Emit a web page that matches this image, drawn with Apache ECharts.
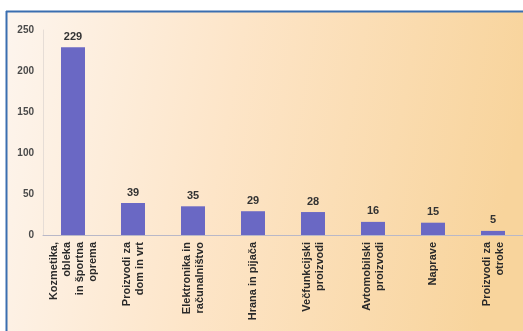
<!DOCTYPE html>
<html>
<head>
<meta charset="utf-8">
<script src="https://cdn.jsdelivr.net/npm/echarts@6/dist/echarts.min.js"></script>
<style>
  html, body { margin: 0; padding: 0; background: #ffffff; }
  #chart { width: 523px; height: 331px; }
</style>
</head>
<body>
<div id="chart"></div>
<script>
// Product categories (rotated labels under each bar)
const categories = [
  'Kozmetika,\nobleka\nin športna\noprema',
  'Proizvodi za\ndom in vrt',
  'Elektronika in\nračunalništvo',
  'Hrana in pijača',
  'Večfunkcijski\nproizvodi',
  'Avtomobilski\nproizvodi',
  'Naprave',
  'Proizvodi za\notroke'
];
// Number of items per category
const counts = [229, 39, 35, 29, 28, 16, 15, 5];
// Value axis ticks
const yTicks = [0, 50, 100, 150, 200, 250];

const chart = echarts.init(document.getElementById('chart'), null, { renderer: 'canvas' });

chart.setOption({
  animation: false,
  backgroundColor: '#ffffff',
  graphic: [
    {
      type: 'rect',
      z: -10,
      silent: true,
      shape: { x: 6, y: 11, width: 517, height: 320 },
      style: {
        fill: new echarts.graphic.LinearGradient(0, 0, 1, 0.3, [
          { offset: 0, color: '#fdf5ee' },
          { offset: 0.45, color: '#fde5c8' },
          { offset: 1, color: '#f8d49c' }
        ])
      }
    },
    {
      type: 'line', z: -9, silent: true,
      shape: { x1: 6, y1: 11.5, x2: 523, y2: 11.5 },
      style: { stroke: '#3a6eb0', lineWidth: 2 }
    },
    {
      type: 'line', z: -9, silent: true,
      shape: { x1: 6.5, y1: 11, x2: 6.5, y2: 331 },
      style: { stroke: '#3a6eb0', lineWidth: 2 }
    }
  ],
  grid: { left: 43, right: -5, top: 30, bottom: 96, containLabel: false },
  xAxis: {
    type: 'category',
    data: categories,
    axisTick: { show: false },
    axisLine: { show: true, lineStyle: { color: '#b9b8c8', width: 1 } },
    axisLabel: {
      interval: 0,
      rotate: 90,
      margin: 7,
      fontFamily: 'Liberation Sans, Arial, sans-serif',
      fontSize: 11,
      fontWeight: 'bold',
      lineHeight: 13,
      color: '#2a2a2a'
    }
  },
  yAxis: {
    type: 'value',
    min: yTicks[0],
    max: yTicks[yTicks.length - 1],
    interval: 50,
    splitLine: { show: false },
    axisTick: { show: false },
    axisLine: { show: true, lineStyle: { color: '#e6ddd6', width: 1 } },
    axisLabel: {
      margin: 9,
      fontFamily: 'Liberation Sans, Arial, sans-serif',
      fontSize: 10,
      fontWeight: 'bold',
      color: '#4a4a4a'
    }
  },
  series: [{
    type: 'bar',
    data: counts,
    barWidth: 24,
    itemStyle: { color: '#6a68c4' },
    label: {
      show: true,
      position: 'top',
      distance: 5,
      fontFamily: 'Liberation Sans, Arial, sans-serif',
      fontSize: 11,
      fontWeight: 'bold',
      color: '#333333'
    }
  }]
});
</script>
</body>
</html>
